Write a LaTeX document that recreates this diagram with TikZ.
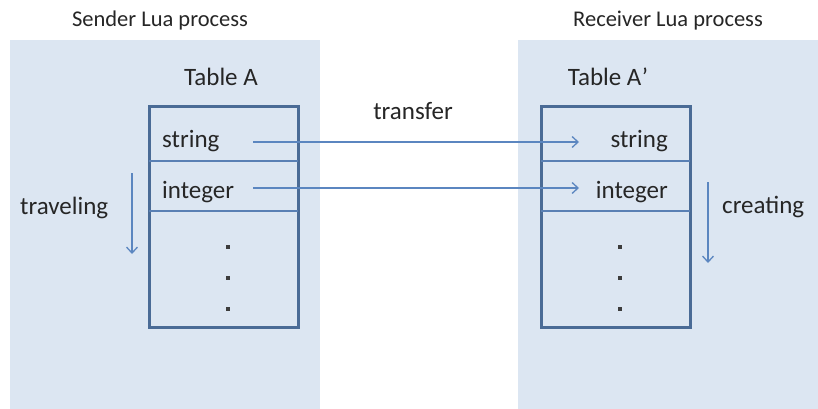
\documentclass[tikz,border=0pt]{standalone}
\usepackage{fontspec}
\setmainfont{Carlito}
\usetikzlibrary{arrows.meta}
\definecolor{panelfill}{HTML}{DCE6F2}
\definecolor{tableedge}{HTML}{4A6B96}
\definecolor{rowline}{HTML}{5A80B4}
\definecolor{flowline}{HTML}{5B86C0}
\definecolor{inktext}{HTML}{262626}
\tikzset{
  panel/.style={fill=panelfill, draw=none},
  tablebox/.style={draw=tableedge, line width=3pt, fill=panelfill},
  rowsep/.style={draw=rowline, line width=1.4pt},
  flow/.style={draw=flowline, line width=1.3pt, -{Straight Barb[length=6pt,width=11pt,line width=1.3pt]}},
  label/.style={inner sep=0pt, text=inktext, font=\fontsize{25}{30}\selectfont},
  title/.style={inner sep=0pt, text=inktext, font=\fontsize{22.5}{27}\selectfont, anchor=base},
  dotmark/.style={rectangle, fill=inktext!90, minimum size=3.8pt, inner sep=0pt},
}
\begin{document}
\begin{tikzpicture}[x=1pt,y=-1pt]
\useasboundingbox (0,0) rectangle (818,409);
\fill[white] (0,0) rectangle (818,409);

% process panels
\path[panel] (10,40) rectangle (320,409);
\path[panel] (518,40) rectangle (818,409);
\node[title] (sendT) at (160,27) {Sender Lua process};
\node[title] (recvT) at (668,27) {Receiver Lua process};

% sender table
\node[label, anchor=base] (tabAT) at (221,86) {Table A};
\draw[tablebox] (149,107) coordinate (tabLnw) rectangle (298,327) coordinate (tabLse);
\draw[rowsep] (149,161) -- (298,161);
\draw[rowsep] (149,211) -- (298,211);
\node[label, anchor=base west] (sL) at (162,147) {string};
\node[label, anchor=base west] (iL) at (162,198) {integer};
\node[dotmark] (dL1) at (228,247) {};
\node[dotmark] (dL2) at (228,278) {};
\node[dotmark] (dL3) at (228,309) {};

% receiver table
\node[label, anchor=base] (tabBT) at (608,86) {Table A\kern0.5pt’};
\draw[tablebox] (541,107) coordinate (tabRnw) rectangle (690,327) coordinate (tabRse);
\draw[rowsep] (541,161) -- (690,161);
\draw[rowsep] (541,211) -- (690,211);
\node[label, anchor=base east] (sR) at (668,147) {string};
\node[label, anchor=base east] (iR) at (668,198) {integer};
\node[dotmark] (dR1) at (620,247) {};
\node[dotmark] (dR2) at (620,278) {};
\node[dotmark] (dR3) at (620,309) {};

% transfer arrows between the tables
\node[label, anchor=base] (xfer) at (413,119) {transfer};
\coordinate (sOut) at (253,142);
\coordinate (sIn) at (579,142);
\coordinate (iOut) at (253,188);
\coordinate (iIn) at (579,188);
\draw[flow] (sOut) -- (sIn);
\draw[flow] (iOut) -- (iIn);

% traversal direction arrows
\node[label, anchor=base west] (trav) at (20,214) {traveling};
\coordinate (travTop) at (132,173);
\coordinate (travBot) at (132,254);
\draw[flow] (travTop) -- (travBot);

\node[label, anchor=base west] (creat) at (722,213) {creating};
\coordinate (creTop) at (708,182);
\coordinate (creBot) at (708,263);
\draw[flow] (creTop) -- (creBot);
\end{tikzpicture}
\end{document}
